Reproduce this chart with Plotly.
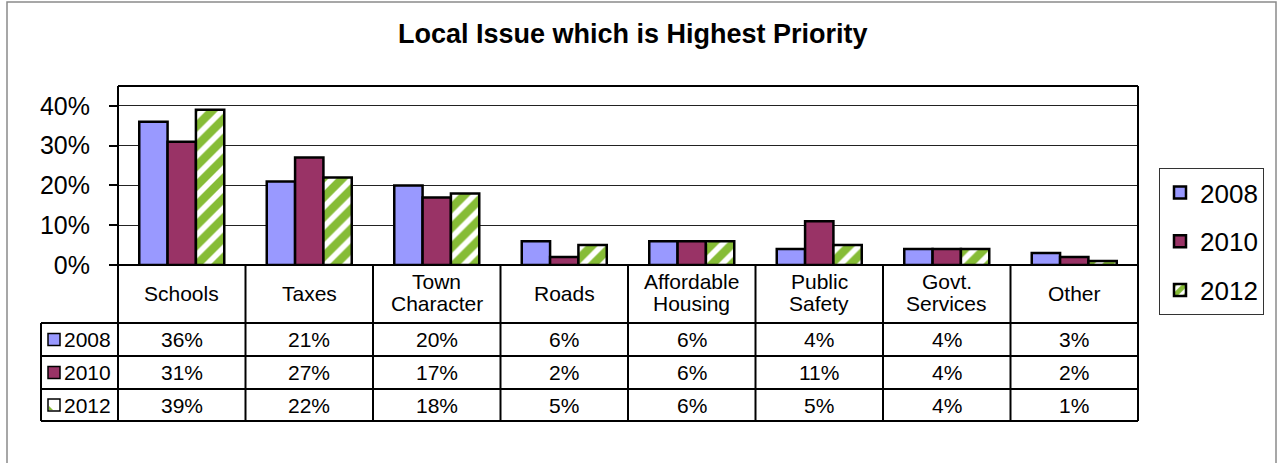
import plotly.graph_objects as go

# Survey results: share of respondents naming each local issue as top priority
CATEGORIES = ["Schools", "Taxes", "Town<br>Character", "Roads", "Affordable<br>Housing",
              "Public<br>Safety", "Govt.<br>Services", "Other"]
YEARS = ["2008", "2010", "2012"]
PCT_2008 = [36, 21, 20, 6, 6, 4, 4, 3]
PCT_2010 = [31, 27, 17, 2, 6, 11, 4, 2]
PCT_2012 = [39, 22, 18, 5, 6, 5, 4, 1]
Y_TICKS = [0, 10, 20, 30, 40]

SERIES = [PCT_2008, PCT_2010, PCT_2012]
BLUE, PLUM, GREEN = "#9999FF", "#993366", "#86BC36"
FONT = "Liberation Sans, Arial, sans-serif"

W, H = 1283, 463
PLOT_L, PLOT_R, PLOT_T = 118, 1138, 86
AXIS_Y0, TABLE_B = 265, 421
ROW_LINES = [265, 323, 356, 389, 421]
KEY_L = 41

PW = PLOT_R - PLOT_L
PH = TABLE_B - PLOT_T


def fx(px):
    return (px - PLOT_L) / PW


def fy(py):
    return (TABLE_B - py) / PH


fig = go.Figure()

edge = dict(color="black", width=2.5)
styles = [
    dict(color=BLUE, line=edge),
    dict(color=PLUM, line=edge),
    dict(color="white", line=edge,
         pattern=dict(shape="/", fgcolor=GREEN, bgcolor="white", size=14,
                      solidity=0.6, fgopacity=1)),
]
labels = [c.replace("<br>", " ") for c in CATEGORIES]
for i, (name, vals) in enumerate(zip(YEARS, SERIES)):
    fig.add_trace(go.Bar(
        x=labels, y=[v / 100 for v in vals], name=name, marker=styles[i],
        legendgroup=name,
    ))

shapes = []
line = dict(color="black", width=2)
# outer chart frame
shapes.append(dict(type="rect", xref="paper", yref="paper", x0=fx(7), x1=fx(1276),
                   y0=fy(480), y1=fy(2), line=dict(color="#8a8a8a", width=1.5),
                   fillcolor="rgba(0,0,0,0)", layer="below"))
# plot area top edge
shapes.append(dict(type="line", xref="paper", yref="paper", x0=0, x1=1,
                   y0=1, y1=1, line=line))
# left and right edges running through the data table
for xp in (0, 1):
    shapes.append(dict(type="line", xref="paper", yref="paper", x0=xp, x1=xp,
                       y0=fy(TABLE_B), y1=1, line=line))
# table horizontal rules
for k, ry in enumerate(ROW_LINES):
    x0 = 0 if k == 0 else fx(KEY_L)
    shapes.append(dict(type="line", xref="paper", yref="paper", x0=x0, x1=1,
                       y0=fy(ry), y1=fy(ry), line=line))
# key column left edge
shapes.append(dict(type="line", xref="paper", yref="paper", x0=fx(KEY_L), x1=fx(KEY_L),
                   y0=fy(ROW_LINES[1]), y1=fy(TABLE_B), line=line))
# column separators between categories
for i in range(1, len(CATEGORIES)):
    shapes.append(dict(type="line", xref="x", yref="paper", x0=i - 0.5, x1=i - 0.5,
                       y0=fy(AXIS_Y0), y1=fy(TABLE_B), line=line))

annotations = []
# title
annotations.append(dict(text="<b>Local Issue which is Highest Priority</b>", xref="paper",
                        yref="paper", x=fx(633), y=fy(34), showarrow=False,
                        font=dict(family=FONT, size=27, color="black"),
                        xanchor="center", yanchor="middle"))

# header row: category names
head_mid = (ROW_LINES[0] + ROW_LINES[1]) / 2 - 1
for i, cat in enumerate(CATEGORIES):
    parts = cat.split("<br>")
    if len(parts) == 1:
        ys = [head_mid]
    else:
        ys = [head_mid - 12, head_mid + 10]
    for part, py in zip(parts, ys):
        annotations.append(dict(text=part, xref="x", yref="paper", x=i, y=fy(py),
                                showarrow=False, xanchor="center", yanchor="middle",
                                font=dict(family=FONT, size=21, color="black")))

# data rows with keys
key_fills = [BLUE, PLUM, "white"]
for r, (name, vals) in enumerate(zip(YEARS, SERIES)):
    top, bot = ROW_LINES[r + 1], ROW_LINES[r + 2]
    mid = (top + bot) / 2
    shapes.append(dict(type="rect", xref="paper", yref="paper", x0=fx(48), x1=fx(60),
                       y0=fy(mid + 6), y1=fy(mid - 6), fillcolor=key_fills[r],
                       line=dict(color="black", width=1.5)))
    if r == 2:
        shapes.append(dict(type="path", xref="paper", yref="paper",
                           path=f"M {fx(49)},{fy(mid + 5)} L {fx(53)},{fy(mid + 5)} "
                                f"L {fx(49)},{fy(mid + 1)} Z",
                           fillcolor=GREEN, line=dict(width=0)))
    annotations.append(dict(text=name, xref="paper", yref="paper", x=fx(62), y=fy(mid),
                            showarrow=False, xanchor="left", yanchor="middle",
                            font=dict(family=FONT, size=21, color="black")))
    for i, v in enumerate(vals):
        annotations.append(dict(text=f"{v}%", xref="x", yref="paper", x=i, y=fy(mid),
                                showarrow=False, xanchor="center", yanchor="middle",
                                font=dict(family=FONT, size=21, color="black")))

fig.update_layout(
    width=W, height=H,
    margin=dict(l=PLOT_L, r=W - PLOT_R, t=PLOT_T, b=H - TABLE_B, pad=0),
    paper_bgcolor="white", plot_bgcolor="white",
    barmode="group", bargap=1 / 3, bargroupgap=0,
    font=dict(family=FONT, color="black"),
    shapes=shapes, annotations=annotations,
    showlegend=True,
    legend=dict(x=fx(1159), y=fy(168), xanchor="left", yanchor="top",
                bordercolor="#333333", borderwidth=1, bgcolor="white",
                font=dict(family=FONT, size=26, color="black"),
                tracegroupgap=12, traceorder="grouped", itemwidth=30),
    xaxis=dict(range=[-0.5, len(CATEGORIES) - 0.5], showticklabels=False,
               showgrid=False, zeroline=False, showline=False, ticks=""),
    yaxis=dict(domain=[fy(AXIS_Y0), 1], range=[0, 0.45],
               tickvals=[t / 100 for t in Y_TICKS], tickformat=".0%",
               showgrid=True, gridcolor="#222222", gridwidth=1, zeroline=False,
               showline=False, ticks="outside", ticklen=8, tickwidth=1.5,
               tickcolor="black", ticklabelstandoff=14,
               tickfont=dict(family=FONT, size=25, color="black")),
)

fig.write_html("out.html")
